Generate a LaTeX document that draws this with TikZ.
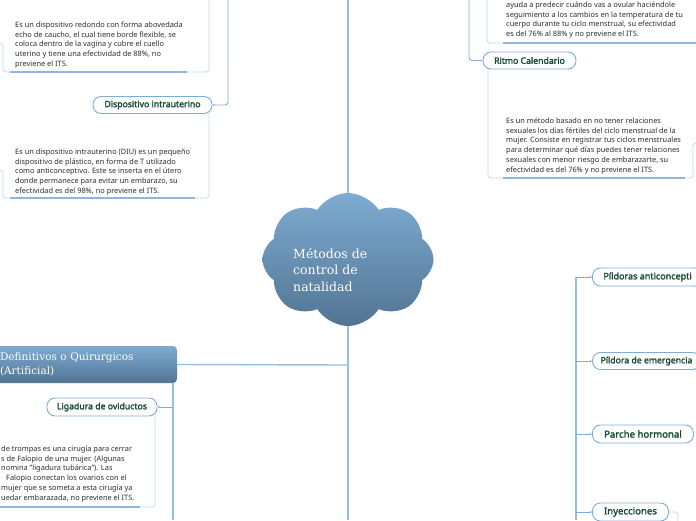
\documentclass[tikz,border=0pt]{standalone}
\usepackage{fontspec}
\setmainfont{Noto Sans}
\newfontfamily\pillfont[AutoFakeBold=2]{Noto Sans}
\newfontfamily\slabfont{DejaVu Serif}
\usepackage{tikz}
\usetikzlibrary{positioning, arrows.meta, shapes.symbols, backgrounds}
\definecolor{linkblue}{RGB}{150,190,228}
\definecolor{pillblue}{RGB}{125,172,218}
\definecolor{pillgreen}{RGB}{20,74,52}
\definecolor{noteline}{RGB}{196,218,238}
\definecolor{noteunder}{RGB}{140,184,224}
\definecolor{notetext}{RGB}{45,45,45}
\definecolor{rootlight}{RGB}{126,172,210}
\definecolor{rootdark}{RGB}{82,116,146}

\begin{document}
\begin{tikzpicture}[x=1pt, y=-1pt,
    link/.style={linkblue, line width=1.4pt},
    branch/.style={pillblue, line width=0.9pt, rounded corners=3pt, -{Latex[length=2pt,width=2.4pt]}},
    pill/.style={draw=pillblue, line width=0.9pt, fill=white, rounded corners=8pt, inner xsep=2pt, minimum height=17pt, text=pillgreen, font=\pillfont\fontsize{8.7}{10}\selectfont\bfseries},
    bigpill/.style={pill, minimum height=18pt, font=\pillfont\fontsize{9.6}{11}\selectfont\bfseries},
    notebox/.style={noteline, line width=0.8pt, rounded corners=3pt},
    underl/.style={noteunder, line width=1.6pt},
    notetxt/.style={anchor=north west, inner sep=0pt, align=left, text=notetext, font=\fontsize{7.4}{9.8}\selectfont},
    rootbox/.style={shade, top color=rootlight, bottom color=rootdark, text=white, align=left}]
    \useasboundingbox (0,0) rectangle (696,520);
    \clip (0,0) rectangle (696,520);

    % Central topic
    \node[cloud, cloud puffs=8, cloud puff arc=115, rootbox, minimum width=171pt, minimum height=133pt, inner sep=0pt] (root) at (348,259.5) {};
    \node[anchor=north west, inner sep=0pt, align=left, text=white, font=\slabfont\fontsize{12.5}{16.5}\selectfont] (roottxt) at (293,248) {Métodos de\\control de\\natalidad};
    \coordinate (topend) at (348,0);
    \coordinate (botend) at (348,520);
    \coordinate (junc) at (348,365);
    \begin{scope}[on background layer]
      \draw[link] (root.center) -- (topend);
      \draw[link] (root.center) -- (botend);
    \end{scope}

    % Main topic on the left
    \node[rootbox, rounded corners=4pt, minimum width=187pt, minimum height=37pt, text width=167pt, inner xsep=10pt, font=\slabfont\fontsize{10.5}{14}\selectfont] (defbox) at (83.5,364.5) {Definitivos o Quirurgicos\\(Artificial)};
    \draw[link] (defbox.east) -- (junc);
    \coordinate (defdown) at (173,520);
    \draw[link] (defdown |- defbox.south) -- (defdown);

    % Subtopics
    \node[pill, minimum width=119pt] (diu) at (152.5,105) {Dispositivo intrauterino};
    \node[pill, minimum width=93pt] (ritmo) at (529.5,60.5) {Ritmo Calendario};
    \node[pill, minimum width=110pt, minimum height=18pt] (ligadura) at (102,407) {Ligadura de oviductos};
    \node[bigpill, anchor=west, inner xsep=11pt, font=\pillfont\fontsize{9}{11}\selectfont\bfseries] (pildoras) at (592,277) {Píldoras anticoncepti};
    \node[pill, anchor=west, minimum width=108pt] (emergencia) at (592,361) {Píldora de emergencia};
    \node[bigpill, anchor=west, minimum width=101pt] (parche) at (592,434) {Parche hormonal};
    \node[bigpill, anchor=west, minimum width=76pt] (inyecciones) at (592,512) {Inyecciones};

    % Connectors to subtopics
    \coordinate (diutop) at (228,0);
    \coordinate (ritmotop) at (469,0);
    \coordinate (rtop) at (576,277);
    \coordinate (rbot) at (576,520);
    \draw[branch] (diutop) |- (diu.east);
    \draw[branch] (ritmotop) |- (ritmo.west);
    \draw[branch] (defdown |- ligadura.east) -- (ligadura.east);
    \draw[link, line width=1.1pt] (rtop) -- (rbot);
    \draw[branch] (rtop |- pildoras.west) -- (pildoras.west);
    \draw[branch] (rtop |- emergencia.west) -- (emergencia.west);
    \draw[branch] (rtop |- parche.west) -- (parche.west);
    \draw[branch] (rtop |- inyecciones.west) -- (inyecciones.west);
    \draw[notebox] (inyecciones.east) -- (678,512) -- (678,525);

    % Notes
    \draw[notebox] (-5,43) -- (3,43) -- (3,72) -- (209,72) -- (209,-5);
    \draw[underl] (10,72) -- (187,72);
    \node[notetxt] (diafragmatxt) at (15,21.4) {Es un dispositivo redondo con forma abovedada\\echo de caucho, el cual tiene borde flexible, se\\coloca dentro de la vagina y cubre el cuello\\uterino y tiene una efectividad de 88\%, no\\previene el ITS.};

    \draw[notebox] (-5,170) -- (3,170) -- (3,198) -- (209,198) -- (209,113);
    \draw[underl] (10,198) -- (195,198);
    \node[notetxt] (diutxt) at (15,148.4) {Es un dispositivo intrauterino (DIU) es un pequeño\\dispositivo de plástico, en forma de T utilizado\\como anticonceptivo. Este se inserta en el útero\\donde permanece para evitar un embarazo, su\\efectividad es del 98\%, no previene el ITS.};

    \draw[notebox] (487,-5) -- (487,43) -- (705,43);
    \draw[underl] (503,43) -- (700,43);
    \node[notetxt] (temptxt) at (506,1.4) {ayuda a predecir cuándo vas a ovular haciéndole\\seguimiento a los cambios en la temperatura de tu\\cuerpo durante tu ciclo menstrual, su efectividad\\es del 76\% al 88\% y no previene el ITS.};

    \draw[notebox] (701,143) -- (693,143) -- (693,178) -- (488,178) -- (488,69);
    \draw[underl] (503,178) -- (685,178);
    \node[notetxt] (ritmotxt) at (506,117.4) {Es un método basado en no tener relaciones\\sexuales los días fértiles del ciclo menstrual de la\\mujer. Consiste en registrar tus ciclos menstruales\\para determinar qué días puedes tener relaciones\\sexuales con menor riesgo de embarazarte, su\\efectividad es del 76\% y no previene el ITS.};

    \draw[notebox] (-5,507) -- (155,507) -- (155,416);
    \draw[underl] (-5,507) -- (140,507);
    \node[notetxt] (ligaduratxt) at (1,445.4) {de trompas es una cirugía para cerrar\\s de Falopio de una mujer. (Algunas\\nomina "ligadura tubárica"). Las\\\hspace*{5pt}Falopio conectan los ovarios con el\\mujer que se someta a esta cirugía ya\\uedar embarazada, no previene el ITS.};
\end{tikzpicture}
\end{document}
